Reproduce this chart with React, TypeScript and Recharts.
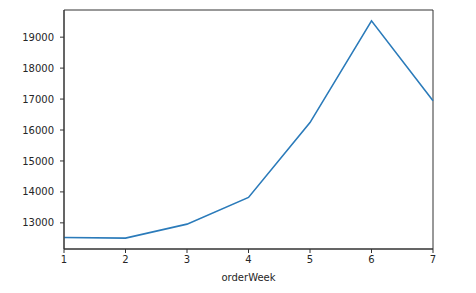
import { CartesianGrid, Line, LineChart, ReferenceArea, XAxis, YAxis } from "recharts";

// weekly order totals
const weeks = [1, 2, 3, 4, 5, 6, 7];
const totals = [12528, 12506, 12958, 13821, 16240, 19527, 16942];
const yTicks = [13000, 14000, 15000, 16000, 17000, 18000, 19000];

const data = weeks.map((w, i) => ({ orderWeek: w, total: totals[i] }));

const Y_MIN = 12155;
const Y_MAX = 19878;
const ink = "#262626";
const tickFont = { fontSize: 10, fill: ink, fontFamily: "DejaVu Sans" };

export default function App() {
  return (
    <div style={{ position: "absolute", left: 0, top: 0, background: "#fff" }}>
      <LineChart
        width={476}
        height={293}
        data={data}
        margin={{ top: 10, right: 43, bottom: 0, left: 0 }}
      >
        <CartesianGrid stroke="none" />
        <XAxis
          dataKey="orderWeek"
          type="number"
          domain={[1, 7]}
          ticks={weeks}
          height={44}
          tickSize={4}
          tickMargin={3}
          tick={tickFont}
          stroke="#333"
          label={{
            value: "orderWeek",
            position: "insideBottom",
            offset: 12,
            style: { fontSize: 10, fill: ink, fontFamily: "DejaVu Sans" },
          }}
        />
        <YAxis
          type="number"
          domain={[Y_MIN, Y_MAX]}
          ticks={yTicks}
          width={64}
          tickSize={4}
          tickMargin={6}
          tick={tickFont}
          stroke="#333"
          allowDataOverflow
        />
        <ReferenceArea
          x1={1}
          x2={7}
          y1={Y_MIN}
          y2={Y_MAX}
          fill="none"
          stroke="#333"
          strokeWidth={1}
        />
        <Line
          type="linear"
          dataKey="total"
          stroke="#2b7bba"
          strokeWidth={1.6}
          dot={false}
          isAnimationActive={false}
        />
      </LineChart>
    </div>
  );
}
